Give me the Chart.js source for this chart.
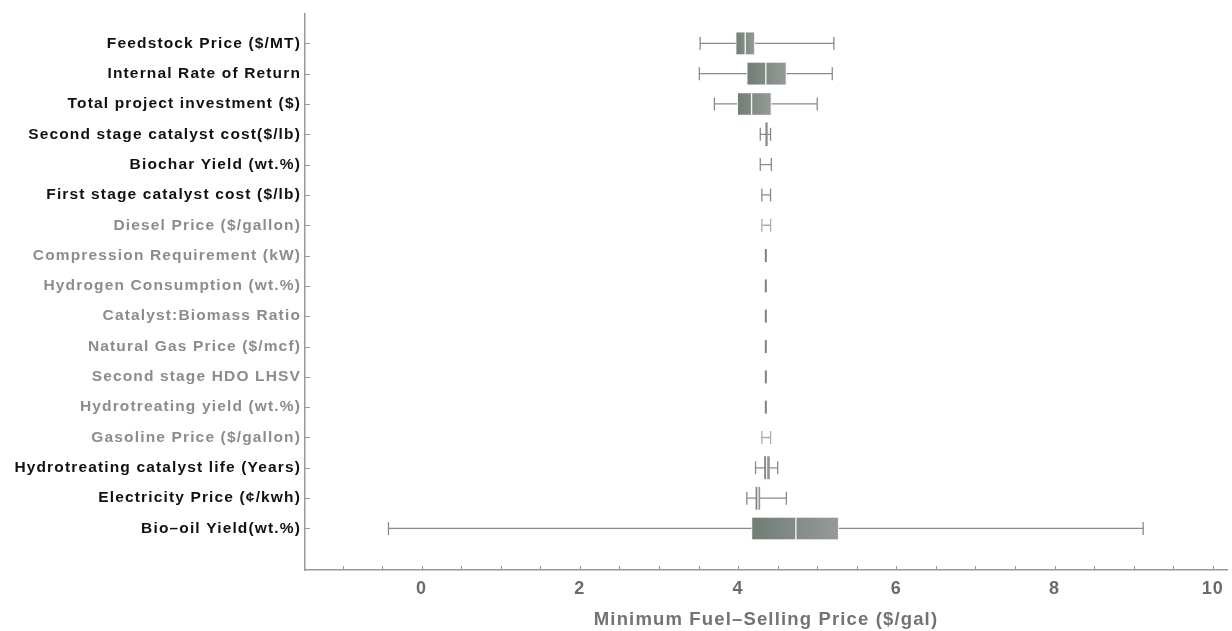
<!DOCTYPE html>
<html>
<head>
<meta charset="utf-8">
<script src="https://cdn.jsdelivr.net/npm/chart.js@4/dist/chart.umd.min.js"></script>
<style>
  html, body { margin: 0; padding: 0; background: #ffffff; }
  #wrap { width: 1232px; height: 631px; }
</style>
</head>
<body>
<div id="wrap"><canvas id="chart" width="1232" height="631"></canvas></div>
<script>
// Sensitivity of the minimum fuel-selling price ($/gal) to each input parameter
const parameters = [
  "Feedstock Price ($/MT)",
  "Internal Rate of Return",
  "Total project investment ($)",
  "Second stage catalyst cost($/lb)",
  "Biochar Yield (wt.%)",
  "First stage catalyst cost ($/lb)",
  "Diesel Price ($/gallon)",
  "Compression Requirement (kW)",
  "Hydrogen Consumption (wt.%)",
  "Catalyst:Biomass Ratio",
  "Natural Gas Price ($/mcf)",
  "Second stage HDO LHSV",
  "Hydrotreating yield (wt.%)",
  "Gasoline Price ($/gallon)",
  "Hydrotreating catalyst life (Years)",
  "Electricity Price (¢/kwh)",
  "Bio\u2013oil Yield(wt.%)"
];
const whiskerLow  = [3.52, 3.51, 3.70, 4.28, 4.28, 4.30, 4.30, 4.35, 4.35, 4.35, 4.35, 4.35, 4.35, 4.30, 4.22, 4.11, -0.42];
const quartile1   = [3.97, 4.11, 3.99, 4.35, 4.35, 4.35, 4.35, 4.35, 4.35, 4.35, 4.35, 4.35, 4.35, 4.35, 4.33, 4.22, 4.17];
const medians     = [4.09, 4.35, 4.17, 4.36, 4.35, 4.35, 4.35, 4.35, 4.35, 4.35, 4.35, 4.35, 4.35, 4.35, 4.36, 4.25, 4.73];
const quartile3   = [4.21, 4.61, 4.42, 4.37, 4.35, 4.35, 4.35, 4.35, 4.35, 4.35, 4.35, 4.35, 4.35, 4.35, 4.40, 4.28, 5.27];
const whiskerHigh = [5.21, 5.19, 5.00, 4.41, 4.42, 4.41, 4.41, 4.35, 4.35, 4.35, 4.35, 4.35, 4.35, 4.41, 4.50, 4.61, 9.12];
const xTickLabels = [0, 2, 4, 6, 8, 10];

// Parameters with a negligible effect are drawn in a muted grey
const mutedParameters = new Set([
  "Diesel Price ($/gallon)",
  "Compression Requirement (kW)",
  "Hydrogen Consumption (wt.%)",
  "Catalyst:Biomass Ratio",
  "Natural Gas Price ($/mcf)",
  "Second stage HDO LHSV",
  "Hydrotreating yield (wt.%)",
  "Gasoline Price ($/gallon)"
]);

const FONT = "'Liberation Sans', Arial, Helvetica, sans-serif";
const TRACKING = '1.15px';

const boxRows = parameters.map((_, i) => i).filter(i => quartile3[i] > quartile1[i]);
const lowerHalf = boxRows.map(i => ({ y: i, x: [quartile1[i], medians[i]] }));
const upperHalf = boxRows.map(i => ({ y: i, x: [medians[i], quartile3[i]] }));

function boxFill(ctx) {
  const chart = ctx.chart;
  if (!chart.chartArea || !ctx.raw) return '#7e8882';
  const i = ctx.raw.y;
  const xs = chart.scales.x;
  const a = xs.getPixelForValue(quartile1[i]);
  const b = xs.getPixelForValue(quartile3[i]);
  if (b - a < 1) return '#7b837e';
  const g = chart.ctx.createLinearGradient(a, 0, b, 0);
  g.addColorStop(0, '#717d76');
  g.addColorStop(1, '#969a96');
  return g;
}

function segWidth(ctx) {
  if (!ctx.chart.chartArea || !ctx.raw) return 0;
  const xs = ctx.chart.scales.x;
  return Math.abs(xs.getPixelForValue(ctx.raw.x[1]) - xs.getPixelForValue(ctx.raw.x[0]));
}

function borderFor(side) {
  return (ctx) => {
    const w = segWidth(ctx);
    const wide = w > 6 ? 1 : 0;
    const mid = w >= 2 ? 1 : 0;
    return side === 'lower'
      ? { left: wide, top: wide, bottom: wide, right: mid }
      : { left: mid, top: wide, bottom: wide, right: wide };
  };
}

// Whiskers with end caps, drawn beneath the boxes
const whiskerPlugin = {
  id: 'whiskers',
  beforeDatasetsDraw(chart) {
    const { ctx, scales: { x, y } } = chart;
    ctx.save();
    parameters.forEach((name, i) => {
      const py = y.getPixelForValue(i);
      const lo = x.getPixelForValue(whiskerLow[i]);
      const hi = x.getPixelForValue(whiskerHigh[i]);
      const muted = mutedParameters.has(name);
      const cap = 6.5;
      if (hi - lo < 1) {
        ctx.strokeStyle = '#808080';
        ctx.lineWidth = 2;
        ctx.beginPath();
        ctx.moveTo(lo, py - cap);
        ctx.lineTo(lo, py + cap);
        ctx.stroke();
        return;
      }
      ctx.strokeStyle = muted ? '#adadad' : '#8a8a8a';
      ctx.lineWidth = 1.3;
      ctx.beginPath();
      ctx.moveTo(lo, py);
      ctx.lineTo(hi, py);
      ctx.moveTo(lo, py - cap);
      ctx.lineTo(lo, py + cap);
      ctx.moveTo(hi, py - cap);
      ctx.lineTo(hi, py + cap);
      ctx.stroke();
    });
    ctx.restore();
  }
};

// Short tick marks pointing into the plot area
const inwardTicks = {
  id: 'inwardTicks',
  afterDatasetsDraw(chart) {
    const { ctx, chartArea: area, scales: { x, y } } = chart;
    ctx.save();
    ctx.strokeStyle = '#999999';
    ctx.lineWidth = 1;
    ctx.beginPath();
    x.ticks.forEach(t => {
      const px = Math.round(x.getPixelForValue(t.value)) + 0.5;
      ctx.moveTo(px, area.bottom);
      ctx.lineTo(px, area.bottom - 4);
    });
    y.ticks.forEach(t => {
      if (!Number.isInteger(t.value) || !parameters[t.value]) return;
      const py = Math.round(y.getPixelForValue(t.value)) + 0.5;
      ctx.moveTo(area.left, py);
      ctx.lineTo(area.left + 5, py);
    });
    ctx.stroke();
    ctx.restore();
  }
};

const tracking = {
  id: 'tracking',
  beforeInit(chart) { chart.ctx.letterSpacing = TRACKING; },
  beforeUpdate(chart) { chart.ctx.letterSpacing = TRACKING; },
  beforeDraw(chart) { chart.ctx.letterSpacing = TRACKING; }
};

new Chart(document.getElementById('chart'), {
  type: 'bar',
  data: {
    datasets: [
      {
        label: 'Q1 – median',
        data: lowerHalf,
        backgroundColor: boxFill,
        borderColor: '#f4f5f4',
        borderWidth: borderFor('lower'),
        borderSkipped: false,
        barThickness: 23,
        grouped: false
      },
      {
        label: 'median – Q3',
        data: upperHalf,
        backgroundColor: boxFill,
        borderColor: '#f4f5f4',
        borderWidth: borderFor('upper'),
        borderSkipped: false,
        barThickness: 23,
        grouped: false
      }
    ]
  },
  options: {
    indexAxis: 'y',
    responsive: false,
    animation: false,
    devicePixelRatio: 1,
    layout: { padding: { top: 12, right: 3, left: 0, bottom: 0 } },
    plugins: { legend: { display: false }, tooltip: { enabled: false } },
    scales: {
      x: {
        type: 'linear',
        position: 'bottom',
        offset: false,
        min: -1.475,
        max: 10.18,
        grid: { display: false, drawTicks: false, offset: false },
        border: { display: true, color: '#999999', width: 1.5 },
        ticks: {
          stepSize: 0.5,
          includeBounds: false,
          autoSkip: false,
          maxRotation: 0,
          padding: 8,
          color: '#6b6b6b',
          font: { family: FONT, size: 18, weight: 'bold' },
          callback: (v) => xTickLabels.includes(v) ? String(v) : ''
        },
        title: {
          display: true,
          text: 'Minimum Fuel\u2013Selling Price ($/gal)',
          color: '#737373',
          font: { family: FONT, size: 18.5, weight: 'bold' },
          padding: { top: 0, bottom: 0 }
        },
        afterFit: (scale) => { scale.height = 61; }
      },
      y: {
        type: 'linear',
        position: 'left',
        reverse: true,
        offset: false,
        min: -0.99,
        max: 17.37,
        grid: { display: false, drawTicks: false, offset: false },
        border: { display: true, color: '#999999', width: 1.5 },
        ticks: {
          stepSize: 1,
          includeBounds: false,
          autoSkip: false,
          padding: 4,
          font: { family: FONT, size: 15.5, weight: 'bold' },
          color: (ctx) => mutedParameters.has(parameters[ctx.tick.value]) ? '#8c8c8c' : '#111111',
          callback: (v) => (Number.isInteger(v) && parameters[v]) ? parameters[v] : ''
        },
        afterFit: (scale) => { scale.width = 305; }
      }
    }
  },
  plugins: [tracking, whiskerPlugin, inwardTicks]
});
</script>
</body>
</html>
